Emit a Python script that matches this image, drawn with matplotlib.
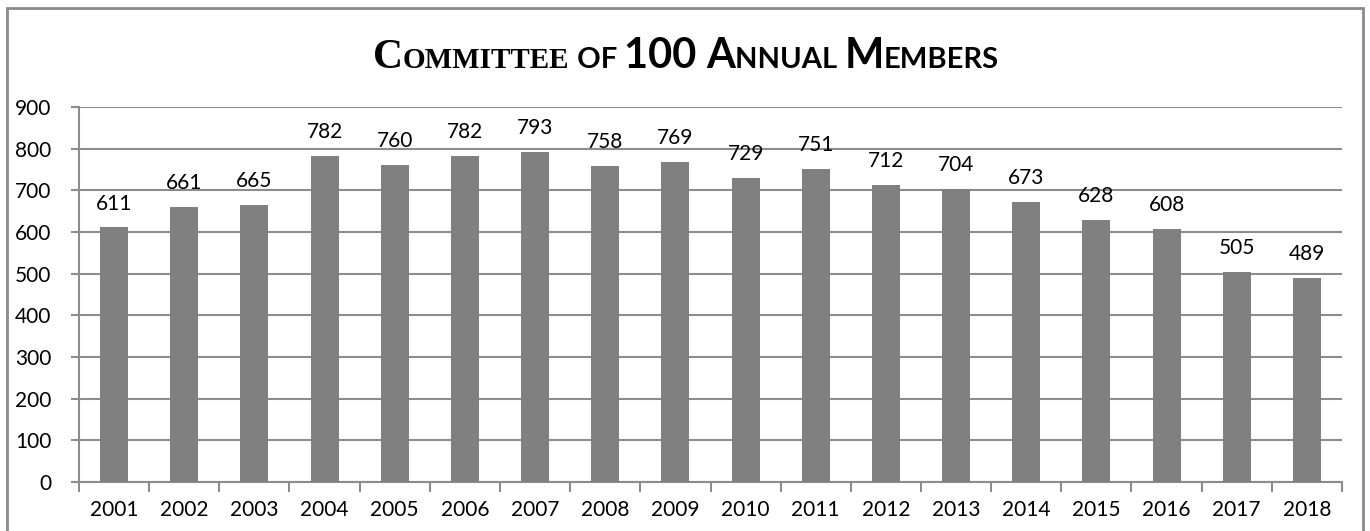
import matplotlib.pyplot as plt
from matplotlib.patches import Rectangle

# Annual members
years = ['2001', '2002', '2003', '2004', '2005', '2006', '2007', '2008', '2009',
         '2010', '2011', '2012', '2013', '2014', '2015', '2016', '2017', '2018']
members = [611, 661, 665, 782, 760, 782, 793, 758, 769,
           729, 751, 712, 704, 673, 628, 608, 505, 489]
yticks = [0, 100, 200, 300, 400, 500, 600, 700, 800, 900]

W, H = 1370, 531
fig = plt.figure(figsize=(W / 100, H / 100), dpi=100)
fig.patch.set_facecolor('white')

# outer chart border
fig.patches.append(Rectangle((7 / W, -0.01), 1356 / W, (H - 8) / H + 0.01,
                             transform=fig.transFigure, fill=False,
                             edgecolor='#8a8a8a', linewidth=2))

ax = fig.add_axes([79 / W, (H - 482) / H, (1342 - 79) / W, (482 - 107) / H])
x = list(range(len(years)))
ax.bar(x, members, width=0.4, color='#808080', zorder=3)

for xi, v in zip(x, members):
    ax.annotate(str(v), (xi, v), xytext=(0, 10), textcoords='offset points',
                ha='center', va='bottom', fontsize=15, family='Lato', color='black')

ax.set_ylim(0, 900)
ax.set_xlim(-0.5, len(years) - 0.5)
ax.set_yticks(yticks)
ax.set_yticklabels([str(t) for t in yticks], family='Lato', fontsize=15)
ax.yaxis.grid(True, color='#8c8c8c', linewidth=1.5, zorder=0)
ax.tick_params(axis='y', length=6, width=1.5, color='#8c8c8c', pad=14)

ax.set_xticks(x)
ax.set_xticklabels(years, family='Lato', fontsize=15)
ax.set_xticks([i - 0.5 for i in range(len(years) + 1)], minor=True)
ax.tick_params(axis='x', which='major', length=0, pad=13)
ax.tick_params(axis='x', which='minor', length=7, width=1.5, color='#8c8c8c')

for s in ['top', 'right']:
    ax.spines[s].set_visible(False)
for s in ['left', 'bottom']:
    ax.spines[s].set_color('#8c8c8c')
    ax.spines[s].set_linewidth(1.5)

# title with small caps, drawn piece by piece
big, small = 30, 21
pieces = [
    ('C', 'Liberation Serif', 'bold', big),
    ('OMMITTEE', 'Liberation Serif', 'bold', small),
    (' OF ', 'Lato', 'bold', small),
    ('100 ', 'Lato', 'bold', big),
    ('A', 'Lato', 'bold', big),
    ('NNUAL ', 'Lato', 'bold', small),
    ('M', 'Lato', 'bold', big),
    ('EMBERS', 'Lato', 'bold', small),
]
renderer = fig.canvas.get_renderer()
texts = []
widths = []
for s, fam, wt, sz in pieces:
    t = fig.text(0, (H - 68) / H, s, family=fam, fontweight=wt, fontsize=sz,
                 ha='left', va='baseline', color='black')
    texts.append(t)
    widths.append(t.get_window_extent(renderer).width)
cx = 686 - sum(widths) / 2
for t, w in zip(texts, widths):
    t.set_x(cx / W)
    cx += w

fig.savefig('out.png', dpi=100)
